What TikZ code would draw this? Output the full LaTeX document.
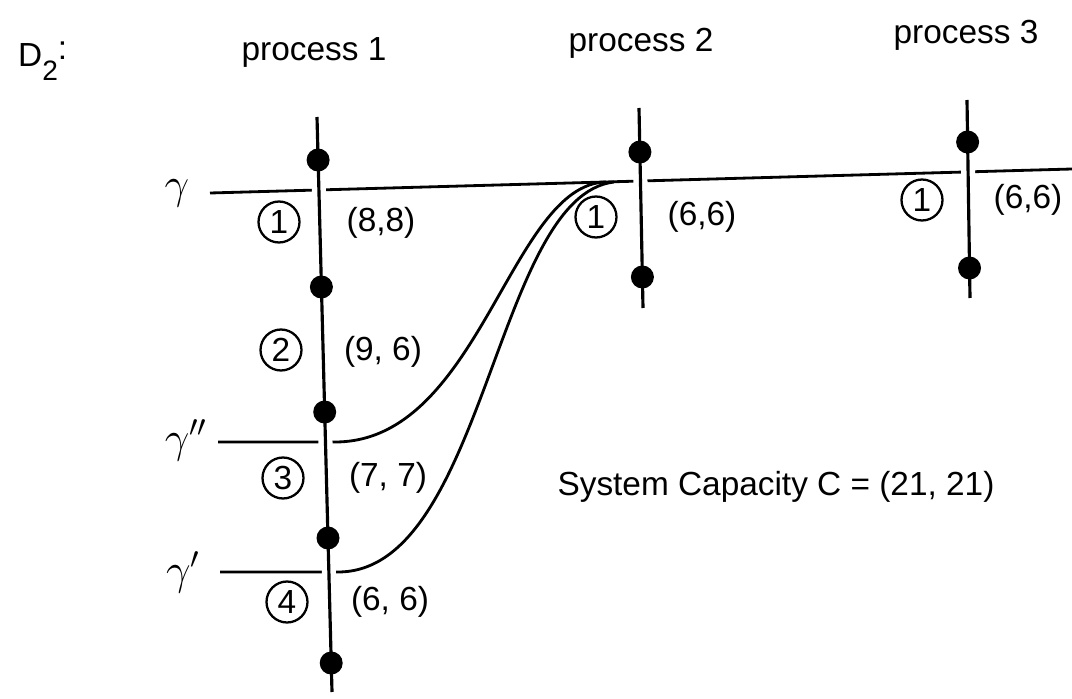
\documentclass[tikz,border=0pt]{standalone}
\usepackage{fontspec}
\setmainfont{Liberation Sans}

\begin{document}
\begin{tikzpicture}[
    x = 0.02cm, y = -0.02cm,   % one unit = one pixel of the sketch, y downwards
    every node/.style = {font = \fontsize{19}{22}\selectfont},
    proc/.style = {
        line width = 1.8pt,
        preaction = {draw = white, line width = 8pt}
    },
    cut/.style = {line width = 1.6pt},
    cutname/.style = {font = \fontsize{27}{30}\selectfont},
    event/.style = {
        circle, fill = black,
        inner sep = 0pt, minimum size = 0.46cm
    },
    idx/.style = {
        circle, draw, line width = 1.3pt,
        inner sep = 0pt, minimum size = 0.82cm
    }
]

\useasboundingbox (0,0) rectangle (1072,699);

% --- Titles ---
\node[anchor = base west] (dtwo) at (12,67)
    {D\raisebox{-0.75ex}{\fontsize{16}{16}\selectfont 2}\raisebox{0.45ex}{:}};

\node (title1) at (314,52) {process 1};

\node (title2) at (641,43) {process 2};

\node (title3) at (966,35) {process 3};

% --- Cuts gamma, gamma'' and gamma' ---
\coordinate (g0)   at (210,193);
\coordinate (g1)   at (1072,169);
\coordinate (gpp0) at (218,442);
\coordinate (gpp1) at (335,442);
\coordinate (gp0)  at (220,572);
\coordinate (gp1)  at (338,572);
\coordinate (mpp)  at (606,182);
\coordinate (mp)   at (614,182);

\draw[cut] (g0) -- (g1);
\draw[cut] (gpp0) -- (gpp1) .. controls (480,442) and (510,184) .. (mpp);
\draw[cut] (gp0) -- (gp1) .. controls (485,572) and (495,196) .. (mp);

\node[cutname] (lg)   at (177,193) {$\gamma$};
\node[cutname] (lgpp) at (186,440) {$\gamma''$};
\node[cutname] (lgp)  at (183,572) {$\gamma'$};

% --- Process lines ---
\coordinate (p1t) at (317,117);
\coordinate (p1b) at (332,692);
\coordinate (p2t) at (639,108);
\coordinate (p2b) at (643,308);
\coordinate (p3t) at (967,100);
\coordinate (p3b) at (970,298);

\draw[proc] (p1t) -- (p1b);
\draw[proc] (p2t) -- (p2b);
\draw[proc] (p3t) -- (p3b);

% --- Events ---
\node[event] (a1) at (318.1,160) {};
\node[event] (a2) at (321.4,287) {};
\node[event] (a3) at (324.7,412) {};
\node[event] (a4) at (328.0,538) {};
\node[event] (a5) at (331.2,663) {};

\node[event] (b1) at (639.9,152) {};
\node[event] (b2) at (642.4,277) {};

\node[event] (c1) at (967.6,142) {};
\node[event] (c2) at (969.5,268) {};

% --- Interval numbers and values ---
\node[idx] (n11) at (279,222) {1};
\node[idx] (n12) at (281,350) {2};
\node[idx] (n13) at (283,478) {3};
\node[idx] (n14) at (287,602) {4};
\node[idx] (n21) at (596,217) {1};
\node[idx] (n31) at (922,200) {1};

\node (v11) at (381,223) {(8,8)};
\node (v12) at (383,352) {(9, 6)};
\node (v13) at (388,478) {(7, 7)};
\node (v14) at (390,602) {(6, 6)};
\node (v21) at (702,217) {(6,6)};
\node (v31) at (1028,200) {(6,6)};

% --- Capacity ---
\node (capacity) at (776,487) {System Capacity C = (21, 21)};

\end{tikzpicture}
\end{document}
